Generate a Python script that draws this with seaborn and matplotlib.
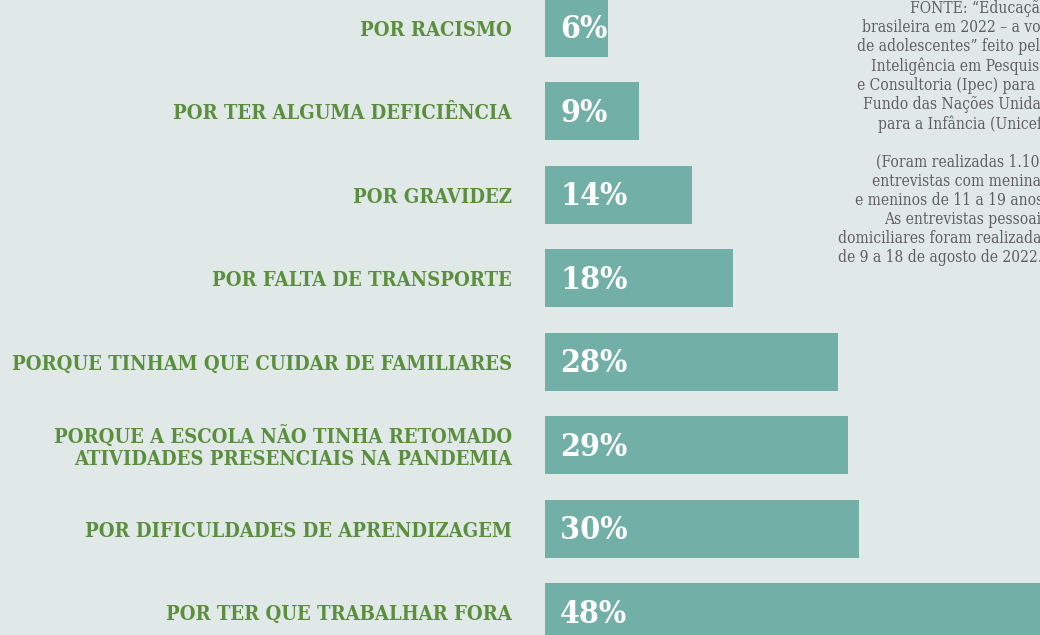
import matplotlib
matplotlib.use("Agg")
import matplotlib.pyplot as plt
import seaborn as sns

# Dados (motivos para deixar a escola, % de respostas)
motivos = [
    "POR RACISMO",
    "POR TER ALGUMA DEFICIÊNCIA",
    "POR GRAVIDEZ",
    "POR FALTA DE TRANSPORTE",
    "PORQUE TINHAM QUE CUIDAR DE FAMILIARES",
    "PORQUE A ESCOLA NÃO TINHA RETOMADO\nATIVIDADES PRESENCIAIS NA PANDEMIA",
    "POR DIFICULDADES DE APRENDIZAGEM",
    "POR TER QUE TRABALHAR FORA",
]
valores = [6, 9, 14, 18, 28, 29, 30, 48]

fonte = (
    "FONTE: “Educação\n"
    "brasileira em 2022 – a voz\n"
    "de adolescentes” feito pela\n"
    "Inteligência em Pesquisa\n"
    "e Consultoria (Ipec) para o\n"
    "Fundo das Nações Unidas\n"
    "para a Infância (Unicef)\n"
    "\n"
    "(Foram realizadas 1.100\n"
    "entrevistas com meninas\n"
    "e meninos de 11 a 19 anos.\n"
    "As entrevistas pessoais\n"
    "domiciliares foram realizadas\n"
    "de 9 a 18 de agosto de 2022.)"
)

FUNDO = "#e0e9e7"
BARRA = "#72afa7"
VERDE = "#5b8f3d"
CINZA = "#5f5f5f"

sns.set_style("white")
plt.rcParams["font.family"] = ["DejaVu Serif"]

fig = plt.figure(figsize=(10.4, 6.35), dpi=100)
fig.patch.set_facecolor(FUNDO)
ax = fig.add_axes([545 / 1040, 0, 495 / 1040, 1])
ax.set_facecolor(FUNDO)

sns.barplot(x=valores, y=motivos, color=BARRA, saturation=1, width=0.695,
            orient="h", linewidth=0, ax=ax)

ax.set_xlim(0, 47.3)
ax.set_ylim(7.275, -0.33)
ax.set_xlabel("")
ax.set_ylabel("")
ax.set_xticks([])
sns.despine(ax=ax, left=True, bottom=True)

ax.tick_params(axis="y", length=0, pad=24)
for lbl in ax.get_yticklabels():
    lbl.set_fontsize(14.5)
    lbl.set_fontweight("bold")
    lbl.set_fontstretch("condensed")
    lbl.set_color(VERDE)
    lbl.set_linespacing(1.05)

# Valores dentro das barras
for i, v in enumerate(valores):
    ax.annotate(f"{v}%", (0, i), xytext=(11, -1.5), textcoords="offset points",
                ha="left", va="center", color="white", fontsize=23,
                fontweight="bold", fontstretch="condensed")

fig.text(1048 / 1040, 1, fonte, ha="right", va="top",
         multialignment="right", fontsize=11.2, color=CINZA,
         fontstretch="condensed", linespacing=1.16)

fig.savefig("out.png", dpi=100, facecolor=FUNDO)
